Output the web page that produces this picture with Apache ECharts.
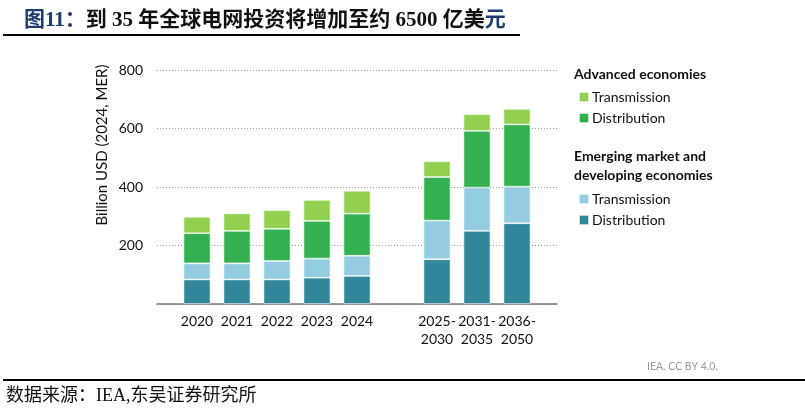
<!DOCTYPE html>
<html>
<head>
<meta charset="utf-8">
<script src="https://cdn.jsdelivr.net/npm/echarts@6/dist/echarts.min.js"></script>
<style>
  html, body { margin: 0; padding: 0; background: #fff; }
  #chart { width: 805px; height: 414px; }
</style>
</head>
<body>
<div id="chart"></div>
<script>
// categories (blank slots keep the gap between history and outlook)
const categories = ['2020', '2021', '2022', '2023', '2024', '2025-\n2030', '2031-\n2035', '2036-\n2050'];
const slots = ['', '2020', '2021', '2022', '2023', '2024', '', '2025-\n2030', '2031-\n2035', '2036-\n2050', ''];

// billion USD (2024, MER)
const aeTransmission = [56, 60, 64, 72, 78, 54, 57, 53];
const aeDistribution = [103, 111, 110, 129, 144, 149, 194, 213];
const emdeTransmission = [55, 55, 63, 65, 69, 132, 148, 125];
const emdeDistribution = [84, 84, 84, 90, 96, 153, 250, 276];

const yTicks = [0, 200, 400, 600, 800];

const font = 'Lato, "Noto Sans", sans-serif';
const cjk = '"Liberation Serif", "Noto Sans CJK SC", serif';

// spread values onto the slot axis
function pad(arr) {
  return slots.map((s) => {
    const i = categories.indexOf(s);
    return i >= 0 ? arr[i] : null;
  });
}

function bar(name, data, color) {
  return {
    name: name,
    type: 'bar',
    stack: 'total',
    barWidth: 27,
    data: pad(data),
    itemStyle: { color: color, borderColor: 'rgba(255,255,255,0.7)', borderWidth: 0.8 },
  };
}

const chart = echarts.init(document.getElementById('chart'));
chart.setOption({
  animation: false,
  backgroundColor: '#fff',
  title: {
    left: 19,
    top: 5,
    text: '{a|图11：}{b|到 35 年全球电网投资将增加至约 6500 亿美}{a|元}',
    textStyle: {
      rich: {
        a: { fontFamily: cjk, fontSize: 21, fontWeight: 'bold', color: '#1f3b6f' },
        b: { fontFamily: cjk, fontSize: 21, fontWeight: 'bold', color: '#111' },
      },
    },
  },
  grid: { left: 157, right: 248, top: 70, bottom: 110 },
  legend: [
    {
      data: ['AE Transmission', 'AE Distribution'],
      orient: 'vertical',
      left: 573,
      top: 85,
      itemWidth: 10,
      itemHeight: 10,
      itemGap: 7,
      icon: 'rect',
      formatter: (n) => n.replace('AE ', ''),
      textStyle: { fontFamily: font, fontSize: 14, color: '#111', padding: [0, 0, 0, -2] },
    },
    {
      data: ['EMDE Transmission', 'EMDE Distribution'],
      orient: 'vertical',
      left: 573,
      top: 187,
      itemWidth: 10,
      itemHeight: 10,
      itemGap: 7,
      icon: 'rect',
      formatter: (n) => n.replace('EMDE ', ''),
      textStyle: { fontFamily: font, fontSize: 14, color: '#111', padding: [0, 0, 0, -2] },
    },
  ],
  xAxis: {
    type: 'category',
    data: slots,
    boundaryGap: false,
    axisLine: { lineStyle: { color: '#777', width: 1.5 } },
    axisTick: { show: false },
    axisLabel: { interval: 0, margin: 8, fontFamily: font, fontSize: 14, color: '#111', lineHeight: 18 },
  },
  yAxis: {
    type: 'value',
    min: yTicks[0],
    max: yTicks[yTicks.length - 1],
    interval: 200,
    axisLine: { show: false },
    axisTick: { show: false },
    axisLabel: {
      margin: 14,
      fontFamily: font,
      fontSize: 14,
      color: '#111',
      formatter: (v) => (v === 0 ? '' : v),
    },
    splitLine: { lineStyle: { color: '#999', type: [1, 2], width: 1 } },
  },
  series: [
    bar('EMDE Distribution', emdeDistribution, '#32879a'),
    bar('EMDE Transmission', emdeTransmission, '#94cddf'),
    bar('AE Distribution', aeDistribution, '#33b04f'),
    bar('AE Transmission', aeTransmission, '#92d050'),
  ],
  graphic: [
    {
      type: 'line',
      shape: { x1: 3, y1: 35, x2: 520, y2: 35 },
      style: { stroke: '#000', lineWidth: 2 },
    },
    {
      type: 'line',
      shape: { x1: 3, y1: 380, x2: 805, y2: 380 },
      style: { stroke: '#000', lineWidth: 2 },
    },
    {
      type: 'text',
      x: 102,
      y: 145,
      rotation: Math.PI / 2,
      style: {
        text: 'Billion USD (2024, MER)',
        font: '15px ' + font,
        fill: '#111',
        align: 'center',
        verticalAlign: 'middle',
      },
    },
    {
      type: 'text',
      left: 574,
      top: 67,
      style: { text: 'Advanced economies', font: 'bold 14px ' + font, fill: '#111' },
    },
    {
      type: 'text',
      left: 574,
      top: 147,
      style: {
        text: 'Emerging market and\ndeveloping economies',
        font: 'bold 14px ' + font,
        fill: '#111',
        lineHeight: 19,
      },
    },
    {
      type: 'text',
      left: 647,
      top: 361,
      style: { text: 'IEA. CC BY 4.0.', font: '10.5px ' + font, fill: '#999' },
    },
    {
      type: 'text',
      left: 6,
      top: 387,
      style: { text: '数据来源：IEA,东吴证券研究所', font: '18px ' + cjk, fill: '#111' },
    },
  ],
});
</script>
</body>
</html>
